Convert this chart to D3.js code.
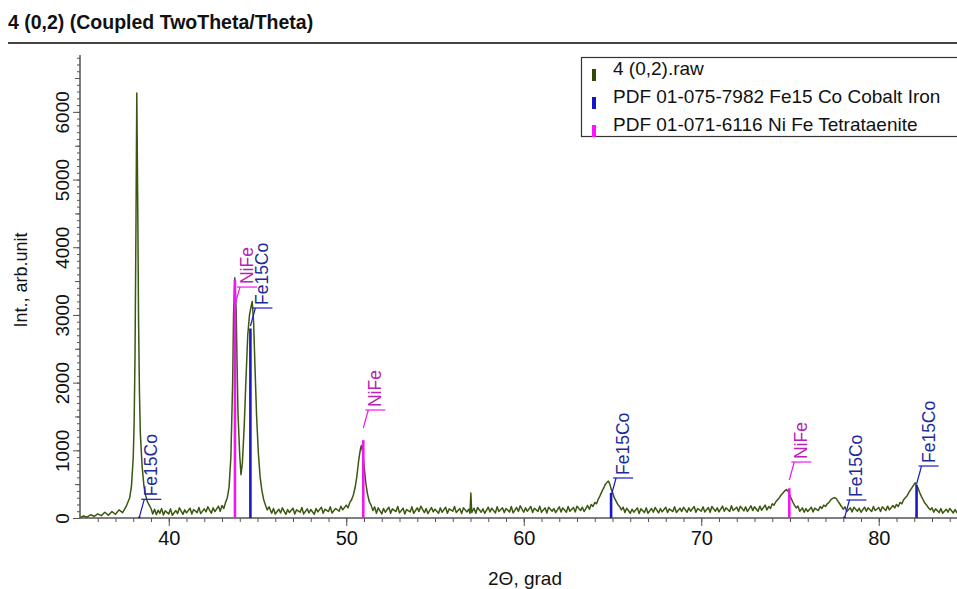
<!DOCTYPE html>
<html>
<head>
<meta charset="utf-8">
<script src="https://cdn.jsdelivr.net/npm/d3@7"></script>
<style>
  body { margin: 0; background: #fff; }
  svg { display: block; font-family: "Liberation Sans", Arial, sans-serif; }
  .axis path, .axis line { stroke: #555; }
</style>
</head>
<body>
<script>
var width = 957,
    height = 589;

var title = "4 (0,2) (Coupled TwoTheta/Theta)",
    xlabel = "2\u0398, grad",
    ylabel = "Int., arb.unit";

// measured scan: [2theta, counts]
var rawPattern = [
  [35.0,5],[35.2,30],[35.4,12],[35.6,48],[35.8,25],[36.0,62],[36.2,35],[36.4,85],[36.6,40],[36.8,95],
  [37.0,55],[37.2,120],[37.4,80],[37.6,170],[37.8,300],[37.9,470],[38.0,900],[38.05,1400],[38.1,2400],
  [38.15,4200],[38.2,6280],[38.25,4700],[38.3,2900],[38.35,1850],[38.4,1250],[38.5,760],[38.6,480],
  [38.7,330],[38.8,240],[38.9,190],[39.0,140],[39.1,60],[39.2,130],[39.3,50],[39.4,115],[39.5,70],
  [39.6,140],[39.7,45],[39.8,105],[40.0,60],[40.1,135],[40.2,40],[40.4,110],[40.5,65],[40.6,150],
  [40.8,55],[40.9,120],[41.0,75],[41.2,145],[41.3,60],[41.4,125],[41.6,80],[41.7,155],[41.8,65],
  [42.0,135],[42.1,90],[42.2,165],[42.4,70],[42.5,150],[42.6,95],[42.8,175],[42.9,100],[43.0,185],
  [43.1,140],[43.2,230],[43.3,300],[43.4,460],[43.5,900],[43.6,2000],[43.65,3000],[43.72,3550],
  [43.8,3050],[43.85,2250],[43.9,1550],[44.0,920],[44.07,640],[44.15,820],[44.25,1350],[44.35,2050],
  [44.45,2700],[44.55,3000],[44.62,3100],[44.7,3200],[44.78,2900],[44.85,2300],[44.95,1500],
  [45.05,950],[45.15,600],[45.25,400],[45.35,270],[45.45,190],[45.55,120],[45.65,165],[45.8,70],
  [45.9,140],[46.0,60],[46.2,130],[46.3,75],[46.4,150],[46.6,55],[46.7,125],[46.8,80],[47.0,145],
  [47.1,60],[47.2,120],[47.4,85],[47.5,155],[47.6,60],[47.8,135],[47.9,75],[48.0,125],[48.2,55],
  [48.3,140],[48.4,90],[48.6,160],[48.7,70],[48.8,130],[49.0,95],[49.1,165],[49.2,75],[49.4,140],
  [49.6,100],[49.7,175],[49.8,120],[50.0,190],[50.1,150],[50.2,230],[50.3,270],[50.4,340],[50.5,450],
  [50.6,620],[50.7,850],[50.8,1020],[50.85,1070],[50.92,980],[51.0,780],[51.1,520],[51.2,350],
  [51.3,240],[51.4,190],[51.5,110],[51.6,165],[51.7,70],[51.8,150],[52.0,60],[52.1,140],[52.2,85],
  [52.4,160],[52.5,70],[52.6,135],[52.8,95],[52.9,170],[53.0,75],[53.2,145],[53.3,60],[53.4,125],
  [53.6,90],[53.7,165],[53.8,70],[54.0,150],[54.1,95],[54.2,175],[54.4,80],[54.5,140],[54.6,65],
  [54.8,155],[54.9,90],[55.0,130],[55.2,70],[55.3,150],[55.4,85],[55.6,160],[55.7,70],[55.8,135],
  [56.0,100],[56.1,170],[56.2,80],[56.4,140],[56.5,65],[56.6,150],[56.8,90],[56.9,130],[56.97,70],
  [57.02,370],[57.07,80],[57.2,145],[57.3,70],[57.4,155],[57.6,85],[57.7,135],[57.8,70],[58.0,160],
  [58.1,90],[58.2,145],[58.4,75],[58.5,165],[58.6,95],[58.8,150],[58.9,80],[59.0,140],[59.2,90],
  [59.3,170],[59.4,75],[59.6,155],[59.7,95],[59.8,180],[60.0,85],[60.1,150],[60.2,100],[60.4,170],
  [60.5,80],[60.6,145],[60.8,95],[60.9,175],[61.0,85],[61.2,150],[61.3,75],[61.4,160],[61.6,100],
  [61.7,140],[61.8,80],[62.0,165],[62.1,90],[62.2,150],[62.4,85],[62.5,170],[62.6,100],[62.8,155],
  [62.9,90],[63.0,175],[63.2,110],[63.3,160],[63.4,95],[63.6,185],[63.7,130],[63.8,200],[63.9,170],
  [64.0,230],[64.1,210],[64.2,280],[64.3,330],[64.4,390],[64.5,440],[64.6,500],[64.7,530],[64.77,545],
  [64.85,500],[64.92,430],[65.0,380],[65.1,300],[65.2,250],[65.3,200],[65.4,170],[65.5,120],[65.6,160],
  [65.7,80],[65.8,145],[66.0,70],[66.1,130],[66.2,85],[66.4,150],[66.5,65],[66.6,135],[66.8,80],
  [66.9,150],[67.0,70],[67.2,140],[67.3,85],[67.4,155],[67.6,75],[67.7,140],[67.8,90],[68.0,160],
  [68.1,80],[68.2,135],[68.4,95],[68.5,165],[68.6,80],[68.8,145],[68.9,95],[69.0,160],[69.2,85],
  [69.3,150],[69.4,100],[69.6,170],[69.7,85],[69.8,140],[70.0,100],[70.1,165],[70.2,90],[70.4,155],
  [70.5,85],[70.6,170],[70.8,100],[70.9,150],[71.0,90],[71.2,175],[71.3,100],[71.4,150],[71.6,95],
  [71.7,180],[71.8,110],[72.0,160],[72.1,95],[72.2,175],[72.4,105],[72.5,165],[72.6,95],[72.8,180],
  [72.9,110],[73.0,165],[73.2,100],[73.3,175],[73.4,115],[73.6,190],[73.7,120],[73.8,170],[73.9,140],
  [74.0,210],[74.1,190],[74.2,240],[74.3,270],[74.4,300],[74.5,340],[74.6,370],[74.7,400],[74.8,420],
  [74.88,400],[74.96,360],[75.05,300],[75.15,240],[75.25,190],[75.35,150],[75.45,175],[75.55,100],
  [75.7,150],[75.8,85],[75.9,140],[76.0,95],[76.2,160],[76.3,90],[76.4,145],[76.6,110],[76.7,170],
  [76.8,140],[76.9,190],[77.0,170],[77.1,210],[77.2,230],[77.3,270],[77.4,290],[77.5,300],[77.6,290],
  [77.7,250],[77.8,210],[77.9,170],[78.0,130],[78.1,165],[78.2,95],[78.4,150],[78.5,90],[78.6,160],
  [78.8,100],[78.9,145],[79.0,85],[79.2,160],[79.3,100],[79.4,150],[79.6,95],[79.7,170],[79.8,110],
  [80.0,155],[80.1,95],[80.2,165],[80.4,110],[80.5,175],[80.6,120],[80.8,185],[80.9,150],[81.0,200],
  [81.1,170],[81.2,230],[81.3,210],[81.4,270],[81.5,300],[81.6,330],[81.7,380],[81.8,420],[81.9,460],
  [82.0,500],[82.05,520],[82.12,480],[82.2,450],[82.3,380],[82.4,320],[82.5,270],[82.6,220],[82.7,190],
  [82.8,150],[82.9,120],[83.0,150],[83.1,85],[83.2,135],[83.4,80],[83.5,140],[83.6,70],[83.8,130],
  [83.9,85],[84.0,140],[84.2,75],[84.3,125],[84.4,80],[84.6,135],[84.7,70],[84.8,120],[85.0,80]
];

// reference sticks (PDF cards)
var fePos = [38.34, 44.60, 64.92, 78.07, 82.13],
    feInt = [20, 2800, 370, 20, 490],
    feLabelAt = [276, 3102, 591, 266, 768];

var niPos = [43.73, 50.96, 74.96],
    niInt = [3520, 1150, 440],
    niLabelAt = [3412, 1595, 827];

var legendNames = ["4 (0,2).raw", "PDF 01-075-7982 Fe15 Co Cobalt Iron", "PDF 01-071-6116 Ni Fe Tetrataenite"],
    legendColors = ["#2f4a0c", "#1414c8", "#ff10ff"];

var rawColor = "#3a5810",
    feColor = "#1a1ac0", feText = "#1e2a9a",
    niColor = "#f018f0", niText = "#b820b8";

var x0 = 80, x1 = 967.5, yBase = 518, yTop = 55;

var xScale = d3.scaleLinear().domain([35, 85]).range([x0, x1]);
var yScale = d3.scaleLinear().domain([0, 6840]).range([yBase, yTop]);

var svg = d3.select("body").append("svg")
    .attr("width", width)
    .attr("height", height);

// title + rule
svg.append("text")
    .attr("x", 8).attr("y", 29)
    .attr("font-size", 19.5).attr("font-weight", "bold")
    .attr("fill", "#111")
    .text(title);

svg.append("line")
    .attr("x1", 8).attr("x2", width)
    .attr("y1", 43).attr("y2", 43)
    .attr("stroke", "#444").attr("stroke-width", 2);

// y axis: minor, medium and major ticks
svg.append("g").attr("class", "axis")
    .attr("transform", "translate(" + x0 + ",0)")
    .call(d3.axisLeft(yScale).tickValues(d3.range(0, 6900, 100)).tickSize(3).tickFormat(""))
    .call(function(g) { g.select(".domain").remove(); });

svg.append("g").attr("class", "axis")
    .attr("transform", "translate(" + x0 + ",0)")
    .call(d3.axisLeft(yScale).tickValues(d3.range(500, 6900, 1000)).tickSize(5).tickFormat(""))
    .call(function(g) { g.select(".domain").remove(); });

var yAxis = svg.append("g").attr("class", "axis")
    .attr("transform", "translate(" + x0 + ",0)")
    .call(d3.axisLeft(yScale).tickValues(d3.range(0, 6001, 1000))
        .tickFormat(d3.format("d")).tickSizeOuter(0).tickSize(7));

yAxis.select(".domain").attr("d", "M0," + yBase + "V" + yTop).attr("stroke-width", 1.5);
yAxis.selectAll("text")
    .attr("x", null).attr("dy", null)
    .attr("transform", "translate(-11,0) rotate(-90)")
    .attr("text-anchor", "middle")
    .attr("font-size", 19)
    .attr("font-family", "Liberation Sans, Arial, sans-serif")
    .attr("fill", "#111");

// x axis
svg.append("g").attr("class", "axis")
    .attr("transform", "translate(0," + yBase + ")")
    .call(d3.axisBottom(xScale).tickValues(d3.range(36, 85, 1)).tickSize(4).tickFormat(""))
    .call(function(g) { g.select(".domain").remove(); });

var xAxis = svg.append("g").attr("class", "axis")
    .attr("transform", "translate(0," + yBase + ")")
    .call(d3.axisBottom(xScale).tickValues([40, 50, 60, 70, 80]).tickSize(8).tickSizeOuter(0));

xAxis.select(".domain").attr("d", "M" + x0 + ",0H" + width).attr("stroke-width", 1.5);
xAxis.selectAll("text")
    .attr("y", 13)
    .attr("font-size", 20)
    .attr("font-family", "Liberation Sans, Arial, sans-serif")
    .attr("fill", "#111");

// axis titles
svg.append("text")
    .attr("transform", "translate(27,280) rotate(-90)")
    .attr("text-anchor", "middle")
    .attr("font-size", 18)
    .attr("fill", "#111")
    .text(ylabel);

svg.append("text")
    .attr("x", 525).attr("y", 585)
    .attr("text-anchor", "middle")
    .attr("font-size", 19)
    .attr("fill", "#111")
    .text(xlabel);

// raw pattern
var line = d3.line()
    .x(function(d) { return xScale(d[0]); })
    .y(function(d) { return yScale(d[1]); });

svg.append("path")
    .datum(rawPattern)
    .attr("d", line)
    .attr("fill", "none")
    .attr("stroke", rawColor)
    .attr("stroke-width", 1.5)
    .attr("stroke-linejoin", "round");

// reference sticks with labels
function drawCard(pos, ints, labelAt, color, textColor, name) {
    var g = svg.append("g");
    pos.forEach(function(p, i) {
        var x = xScale(p),
            yl = yScale(labelAt[i]);
        g.append("line")
            .attr("x1", x).attr("x2", x)
            .attr("y1", yScale(0)).attr("y2", yScale(ints[i]))
            .attr("stroke", color).attr("stroke-width", 2.6);
        // leader
        g.append("line")
            .attr("x1", x).attr("y1", Math.min(yl + 18, yBase))
            .attr("x2", x + 5).attr("y2", yl)
            .attr("stroke", color).attr("stroke-width", 1.2);
        g.append("line")
            .attr("x1", x + 2).attr("x2", x + 22)
            .attr("y1", yl).attr("y2", yl)
            .attr("stroke", color).attr("stroke-width", 1.2);
        g.append("text")
            .attr("transform", "translate(" + (x + 18) + "," + (yl - 3) + ") rotate(-90)")
            .attr("font-size", 17.5)
            .attr("fill", textColor)
            .text(name);
    });
}

drawCard(niPos, niInt, niLabelAt, niColor, niText, "NiFe");
drawCard(fePos, feInt, feLabelAt, feColor, feText, "Fe15Co");

// legend
var legend = svg.append("g");
legend.append("rect")
    .attr("x", 581.5).attr("y", 57.5)
    .attr("width", 400).attr("height", 79)
    .attr("fill", "#fff")
    .attr("stroke", "#333").attr("stroke-width", 1.2);

legendNames.forEach(function(n, i) {
    var yy = 75 + i * 28;
    legend.append("rect")
        .attr("x", 592).attr("y", yy - 6)
        .attr("width", 4).attr("height", 12)
        .attr("fill", legendColors[i]);
    legend.append("text")
        .attr("x", 613).attr("y", yy)
        .attr("font-size", 19)
        .attr("fill", "#111")
        .text(n);
});
</script>
</body>
</html>
